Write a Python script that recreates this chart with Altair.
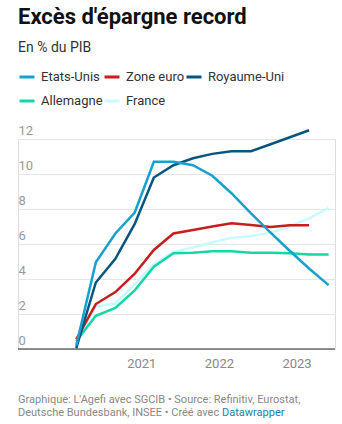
import altair as alt
import pandas as pd

dates = ["2020-03-01", "2020-06-01", "2020-09-01", "2020-12-01",
         "2021-03-01", "2021-06-01", "2021-09-01", "2021-12-01",
         "2022-03-01", "2022-06-01", "2022-09-01", "2022-12-01",
         "2023-03-01", "2023-06-01"]
etats_unis = [0.2, 4.95, 6.6, 7.8, 10.7, 10.7, 10.5, 9.9, 8.9, 7.75, 6.65, 5.6, 4.6, 3.65]
zone_euro = [0.55, 2.57, 3.25, 4.3, 5.66, 6.6, 6.8, 7.0, 7.18, 7.08, 6.97, 7.07, 7.07]
royaume_uni = [0.05, 3.8, 5.15, 7.15, 9.8, 10.5, 10.9, 11.15, 11.3, 11.3, 11.7, 12.1, 12.5]
allemagne = [0.45, 1.9, 2.35, 3.35, 4.7, 5.47, 5.5, 5.58, 5.58, 5.5, 5.5, 5.47, 5.4, 5.4]
france = [0.45, 2.42, 2.6, 3.7, 4.85, 5.55, 5.8, 6.1, 6.35, 6.45, 6.65, 7.0, 7.47, 8.07]

series_order = ["Etats-Unis", "Zone euro", "Royaume-Uni", "Allemagne", "France"]
series_colors = ["#18a1cd", "#c71e1d", "#09557f", "#15d6a4", "#c8fbff"]
y_ticks = [0, 2, 4, 6, 8, 10, 12]
x_ticks = [2021, 2022, 2023]

footer1 = "Graphique: L'Agefi avec SGCIB \u2022 Source: Refinitiv, Eurostat,"
footer2 = "Deutsche Bundesbank, INSEE \u2022 Cr\u00e9\u00e9 avec "
footer_link = "Datawrapper"

rows = []
for name, vals in [("France", france), ("Allemagne", allemagne),
                   ("Zone euro", zone_euro), ("Royaume-Uni", royaume_uni),
                   ("Etats-Unis", etats_unis)]:
    for d, v in zip(dates, vals):
        rows.append({"date": d, "valeur": v, "pays": name})
df = pd.DataFrame(rows)

x_scale = alt.Scale(type="utc",
                    domain=[alt.DateTime(year=2019, month=6, date=1, utc=True),
                            alt.DateTime(year=2023, month=7, date=1, utc=True)])
y_scale = alt.Scale(domain=[0, 12], nice=False, zero=True)

y_axis = alt.Axis(values=y_ticks, title=None, orient="left", labelAlign="left",
                  labelBaseline="alphabetic", labelPadding=0, tickSize=0, ticks=False,
                  domain=False, grid=True, gridColor="#e6e6e6",
                  labelColor="#9a9a9a", labelFontSize=13, labelOffset=-5,
                  labelFont="Roboto", labelOverlap=False, labelBound=False)

lines = alt.Chart(df).mark_line(strokeWidth=2.5, clip=False).encode(
    x=alt.X("date:T", scale=x_scale,
            axis=alt.Axis(values=[alt.DateTime(year=y, month=1, date=1, utc=True) for y in x_ticks],
                          format="%Y", title=None, ticks=False, domain=False, grid=False,
                          labelColor="#888888", labelFontSize=13, labelPadding=8,
                          labelFont="Roboto", labelOverlap=False)),
    y=alt.Y("valeur:Q", scale=y_scale, axis=y_axis),
    color=alt.Color("pays:N",
                    scale=alt.Scale(domain=series_order, range=series_colors),
                    legend=alt.Legend(title=None, orient="none", legendX=0, legendY=-71,
                                      direction="horizontal", columns=3, columnPadding=-10,
                                      rowPadding=8, gridAlign="each",
                                      symbolType="stroke", symbolSize=225,
                                      symbolStrokeWidth=3, labelFontSize=13,
                                      labelColor="#333333", labelFont="Roboto",
                                      labelOffset=5, padding=0)),
    detail="pays:N",
)

baseline = alt.Chart(pd.DataFrame({"v": [0]})).mark_rule(color="#222222", strokeWidth=1).encode(
    y=alt.Y("v:Q", scale=y_scale, axis=y_axis)
)

foot1 = alt.Chart(pd.DataFrame({"t": [footer1]})).mark_text(
    align="left", baseline="alphabetic", fontSize=11, color="#888888", font="Roboto"
).encode(x=alt.value(0), y=alt.value(264), text="t:N")
foot2 = alt.Chart(pd.DataFrame({"t": [footer2]})).mark_text(
    align="left", baseline="alphabetic", fontSize=11, color="#888888", font="Roboto"
).encode(x=alt.value(0), y=alt.value(277), text="t:N")
foot3 = alt.Chart(pd.DataFrame({"t": [footer_link]})).mark_text(
    align="left", baseline="alphabetic", fontSize=11, color="#1d81a2", font="Roboto"
).encode(x=alt.value(204), y=alt.value(277), text="t:N")

chart = alt.layer(lines, baseline, foot1, foot2, foot3).properties(
    width=317, height=210,
    padding={"left": 18, "top": 139, "right": 7, "bottom": 75},
    autosize=alt.AutoSizeParams(type="none"),
    title=alt.TitleParams(text="Exc\u00e8s d'\u00e9pargne record", subtitle="En % du PIB",
                          anchor="start", frame="group", fontSize=22, fontWeight="bold",
                          font="Roboto", color="#111111", subtitleFont="Roboto",
                          subtitleFontSize=14, subtitleColor="#333333",
                          subtitlePadding=12, offset=12),
).configure_view(stroke=None).configure(font="Roboto", background="white")

chart.save("out.html", embed_options={"renderer": "svg", "actions": False})
